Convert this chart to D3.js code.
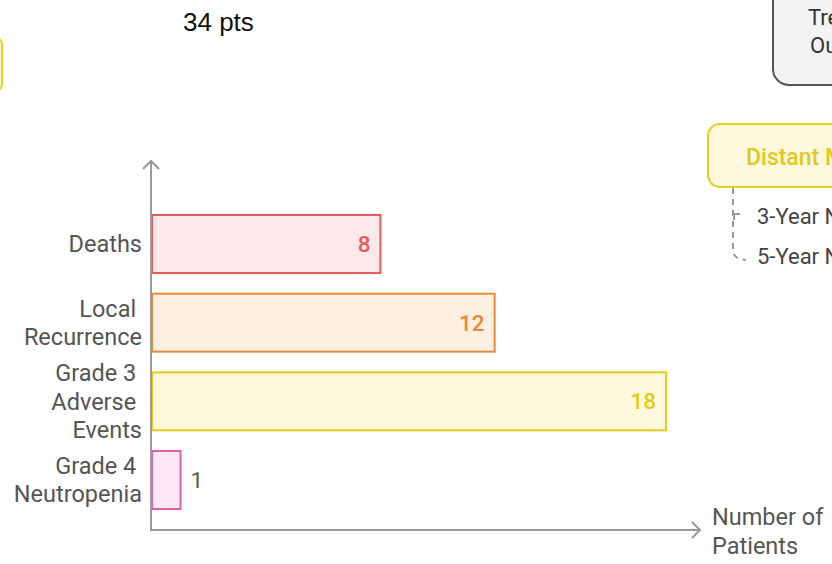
<!DOCTYPE html>
<html>
<head>
<meta charset="utf-8">
<script src="https://cdn.jsdelivr.net/npm/d3@7"></script>
<style>
  html, body { margin: 0; padding: 0; background: #fff; }
  svg { display: block; font-family: Roboto, "Noto Sans", sans-serif; }
</style>
</head>
<body>
<div id="chart"></div>
<script>
// chart data
const categories = ['Deaths', 'Local Recurrence', 'Grade 3 Adverse Events', 'Grade 4 Neutropenia'];
const categoryLines = [['Deaths'], ['Local ', 'Recurrence'], ['Grade 3 ', 'Adverse ', 'Events'], ['Grade 4 ', 'Neutropenia']];
const patients = [8, 12, 18, 1];
const strokeColors = ['#e85a5a', '#e8893a', '#e3cd1a', '#e060a8'];
const fillColors = ['#fde9e9', '#fdeee2', '#fdf8dc', '#fde8f4'];
const axisTitleLines = ['Number of', 'Patients'];
const headerText = '34 pts';

const width = 832, height = 564;
const svg = d3.select('#chart').append('svg').attr('width', width).attr('height', height);

const x = d3.scaleLinear().domain([0, 18]).range([152, 666]);
const y = d3.scaleBand().domain(categories).range([215, 509]).paddingInner(0.263).paddingOuter(0);

// background fragments of the surrounding infographic
svg.append('rect').attr('x', -100).attr('y', 37).attr('width', 102).attr('height', 55).attr('rx', 8)
  .attr('fill', '#fdf8dc').attr('stroke', '#e3d11c').attr('stroke-width', 2);

svg.append('text').attr('x', 183).attr('y', 31).text(headerText)
  .style('font-family', '"Liberation Sans", Arial, sans-serif').style('font-size', '26px').attr('fill', '#111');

svg.append('rect').attr('x', 773).attr('y', -30).attr('width', 120).attr('height', 115).attr('rx', 16)
  .attr('fill', '#f3f3f3').attr('stroke', '#555').attr('stroke-width', 2);
svg.append('text').attr('x', 808).attr('y', 25).text('Treatment').attr('fill', '#333').style('font-size', '22px');
svg.append('text').attr('x', 810).attr('y', 53).text('Outcomes').attr('fill', '#333').style('font-size', '22px');

svg.append('rect').attr('x', 708).attr('y', 124).attr('width', 220).attr('height', 63).attr('rx', 12)
  .attr('fill', '#fdf8dc').attr('stroke', '#e3d11c').attr('stroke-width', 2);
svg.append('text').attr('x', 746).attr('y', 165).text('Distant Metastasis')
  .attr('fill', '#e0c81c').style('font-size', '23px').style('font-weight', 500);

svg.append('path').attr('d', 'M733,188 L733,250 Q733,259 746,260')
  .attr('fill', 'none').attr('stroke', '#999').attr('stroke-width', 2).attr('stroke-dasharray', '6,5');
svg.append('path').attr('d', 'M734,220 L734,214 L740,214')
  .attr('fill', 'none').attr('stroke', '#999').attr('stroke-width', 2);
svg.append('text').attr('x', 757).attr('y', 224).text('3-Year NED').attr('fill', '#444').style('font-size', '22px');
svg.append('text').attr('x', 757).attr('y', 264).text('5-Year NED').attr('fill', '#444').style('font-size', '22px');

// bars
const rows = categories.map((c, i) => ({ cat: c, lines: categoryLines[i], value: patients[i], stroke: strokeColors[i], fill: fillColors[i] }));
const isSmall = d => x(d.value) - x(0) < 40;

svg.selectAll('.bar').data(rows).enter().append('rect')
  .attr('class', 'bar')
  .attr('x', x(0))
  .attr('y', d => y(d.cat))
  .attr('width', d => x(d.value) - x(0))
  .attr('height', y.bandwidth())
  .attr('fill', d => d.fill)
  .attr('stroke', d => d.stroke)
  .attr('stroke-width', 2);

// value labels
svg.selectAll('.value').data(rows).enter().append('text')
  .attr('class', 'value')
  .attr('x', d => (isSmall(d) ? x(d.value) + 10 : x(d.value) - 10))
  .attr('y', d => y(d.cat) + y.bandwidth() / 2)
  .attr('dy', '0.35em')
  .attr('text-anchor', d => (isSmall(d) ? 'start' : 'end'))
  .attr('fill', d => (isSmall(d) ? '#555' : d.stroke))
  .style('font-size', '22.5px')
  .style('font-weight', d => (isSmall(d) ? 400 : 500))
  .text(d => d.value);

// category labels
const lineH = 28.5;
const labels = svg.selectAll('.cat').data(rows).enter().append('text')
  .attr('class', 'cat')
  .attr('text-anchor', 'end')
  .attr('fill', '#555')
  .style('font-size', '23.5px')
  .style('white-space', 'pre');
labels.each(function (d) {
  const mid = y(d.cat) + y.bandwidth() / 2;
  const top = mid - (d.lines.length - 1) * lineH / 2;
  d3.select(this).selectAll('tspan').data(d.lines).enter().append('tspan')
    .attr('x', 142)
    .attr('y', (l, k) => top + k * lineH)
    .attr('dy', '0.35em')
    .text(l => l);
});

// axes with arrows
const axisY = 530;
svg.append('line').attr('x1', x(0) - 1).attr('x2', x(0) - 1).attr('y1', 161).attr('y2', axisY)
  .attr('stroke', '#999').attr('stroke-width', 2);
svg.append('path').attr('d', `M${x(0) - 9},169 L${x(0) - 1},161 L${x(0) + 7},169`)
  .attr('fill', 'none').attr('stroke', '#999').attr('stroke-width', 2);
svg.append('line').attr('x1', x(0) - 2).attr('x2', 700).attr('y1', axisY).attr('y2', axisY)
  .attr('stroke', '#999').attr('stroke-width', 2);
svg.append('path').attr('d', `M692,522 L700,${axisY} L692,538`)
  .attr('fill', 'none').attr('stroke', '#999').attr('stroke-width', 2);

svg.append('text').attr('fill', '#555').style('font-size', '23.5px')
  .selectAll('tspan').data(axisTitleLines).enter().append('tspan')
  .attr('x', 712).attr('y', (l, k) => 517 + k * 29).attr('dy', '0.35em').text(l => l);
</script>
</body>
</html>
